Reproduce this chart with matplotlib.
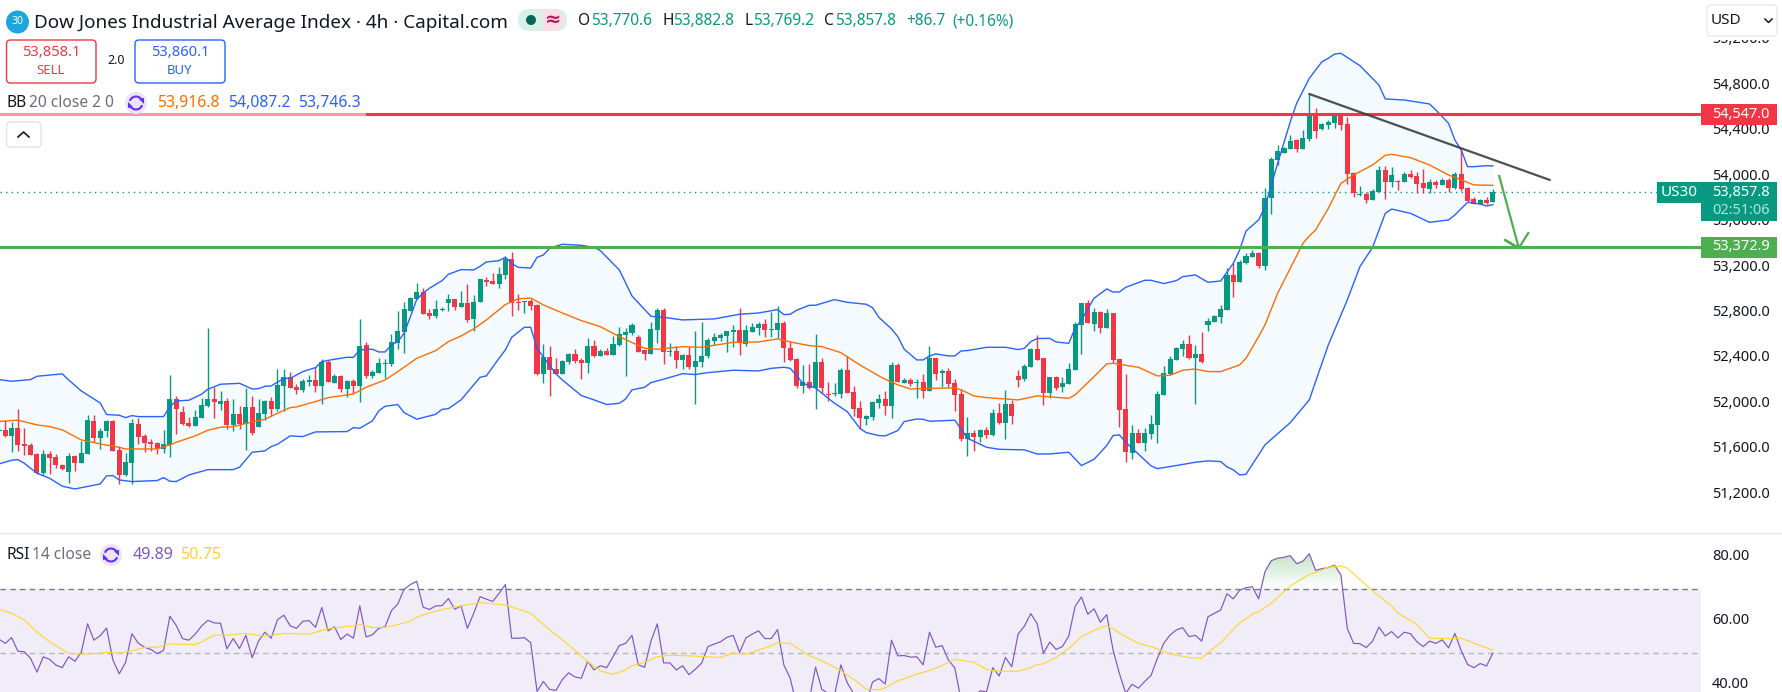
import matplotlib
matplotlib.use("Agg")
import matplotlib.pyplot as plt
import numpy as np
from matplotlib.patches import Rectangle, FancyBboxPatch, Circle, Arc, Polygon
from matplotlib.path import Path
from matplotlib.transforms import ScaledTranslation

plt.rcParams['font.family'] = ['Noto Sans', 'DejaVu Sans']

# candles, oldest first: open, high, low, close
opens = [51758,51764,51711,51781,51640,51632,51552,51382,51552,51526,51456,51394,51535,51473,51552,51843,51693,51755,51843,51588,
51367,51473,51816,51711,51658,51649,51596,51632,52036,51922,51825,51799,51869,51975,52036,51992,52019,51808,51904,51816,
51966,51790,51904,52019,51948,52151,52230,52142,52116,52186,52204,52151,52362,52177,52239,52124,52195,52151,52512,52239,
52265,52345,52345,52529,52626,52811,52917,52978,52793,52767,52820,52881,52917,52846,52881,52741,52890,53084,53075,53049,
53128,53269,52890,52890,52899,52864,52256,52406,52300,52256,52362,52433,52380,52353,52503,52415,52459,52424,52512,52600,
52617,52582,52468,52433,52644,52820,52450,52459,52380,52424,52318,52362,52415,52547,52573,52591,52626,52644,52521,52626,
52661,52697,52644,52644,52705,52485,52389,52151,52186,52133,52362,52080,52080,52080,52292,52098,51957,51860,51878,52001,
52036,51975,52336,52177,52204,52177,52186,52107,52397,52265,52283,52177,52080,51684,51737,51702,51764,51720,51913,51825,
51992,52239,52212,52318,52477,52397,52089,52230,52142,52168,52292,52688,52881,52697,52802,52661,52793,52389,51948,51561,
51737,51649,51728,51808,52072,52256,52380,52477,52521,52397,52433,52688,52714,52758,52820,53128,53066,53234,53286,53322,
53207,53802,54140,54201,54237,54316,54237,54325,54539,54413,54448,54465,54530,54457,54025,53832,53841,53788,53858,54052,
53946,53955,53946,54017,53999,53937,53885,53946,53920,53964,53893,54017,53893,53796,53752,53788,53770.6]
highs = [51770,51852,51834,51948,51781,51646,51561,51588,51579,51552,51464,51558,51544,51667,51896,51896,51781,51852,51852,51623,
51561,51860,51869,51728,51684,51658,51764,52248,52063,51975,51878,51940,52045,52661,52142,52107,52045,52036,51975,52133,
52063,52036,52028,52054,52300,52300,52274,52168,52212,52248,52318,52389,52380,52256,52248,52204,52212,52741,52538,52292,
52397,52389,52609,52811,52890,52934,53058,53013,52829,52908,52846,52961,52917,52987,53049,52952,53093,53110,53146,53198,
53295,53330,52961,52899,52917,52873,52521,52503,52397,52380,52441,52477,52397,52573,52556,52477,52485,52591,52670,52661,
52705,52600,52468,52714,52837,52837,52529,52503,52433,52494,52635,52714,52573,52617,52617,52635,52688,52837,52688,52705,
52714,52741,52802,52855,52723,52547,52397,52336,52345,52609,52397,52186,52177,52309,52415,52151,52019,51896,52019,52080,
52107,52362,52353,52221,52221,52212,52256,52503,52397,52300,52309,52212,52124,51878,51764,51772,51790,51948,52001,52116,
52028,52292,52345,52485,52600,52397,52230,52239,52230,52353,52714,52881,52908,52837,52811,52829,52793,52389,52256,51808,
51772,51781,51896,52107,52327,52415,52494,52556,52600,52512,52626,52749,52776,52864,53189,53234,53260,53322,53348,53330,
53893,54166,54272,54254,54360,54325,54404,54727,54597,54465,54492,54545,54545,54518,54034,53911,53858,53885,54087,54087,
54078,53964,54034,54052,54034,54061,53973,53964,53981,53981,54034,54237,53902,53814,53796,53814,53882.8]
lows = [51752,51705,51573,51582,51544,51544,51376,51367,51376,51429,51412,51297,51403,51473,51552,51658,51596,51702,51579,51288,
51359,51288,51640,51570,51579,51552,51561,51526,51728,51808,51790,51799,51869,51966,51869,51940,51772,51755,51772,51588,
51720,51790,51852,51887,51931,51931,52133,52080,52098,52151,52098,51992,52186,52177,52098,52054,52089,52010,52221,52221,
52265,52221,52327,52477,52441,52811,52917,52785,52741,52749,52811,52811,52823,52846,52714,52635,52890,53031,53049,53013,
53093,52767,52820,52793,52820,52248,52177,52063,52256,52256,52345,52353,52212,52265,52406,52415,52424,52424,52503,52239,
52600,52450,52380,52433,52529,52345,52415,52309,52300,52300,51992,52318,52397,52512,52547,52450,52494,52424,52503,52626,
52600,52582,52582,52573,52362,52371,52133,52089,52124,51948,52089,52019,52063,52045,52089,51887,51772,51808,51852,51957,
51896,51869,52186,52177,52151,52045,52045,52107,52204,52142,52142,51931,51667,51535,51579,51658,51693,51711,51816,51684,
51816,52142,52195,52318,52380,51984,52045,52116,52098,52168,52292,52433,52705,52635,52617,52661,52353,51790,51482,51508,
51649,51579,51684,51649,52072,52248,52380,52415,52389,51992,52353,52635,52714,52705,52820,52934,53066,53225,53286,53189,
53172,53664,54096,54201,54237,54210,54237,54307,54333,54404,54413,54421,54404,53929,53814,53823,53761,53788,53858,53796,
53902,53876,53946,53981,53849,53849,53849,53893,53920,53858,53885,53867,53770,53752,53752,53752,53769.2]
closes = [51764,51711,51781,51632,51623,51544,51382,51552,51517,51456,51420,51535,51473,51561,51852,51693,51755,51843,51579,51367,
51482,51825,51702,51649,51640,51596,51640,52036,51948,51816,51799,51878,51984,52036,52010,52019,51808,51904,51816,51966,
51737,51913,52019,51948,52160,52230,52133,52116,52195,52204,52151,52362,52186,52239,52124,52195,52151,52503,52239,52274,
52353,52353,52538,52635,52829,52925,52978,52785,52767,52829,52829,52917,52846,52881,52732,52890,53093,53066,53049,53137,
53269,52881,52881,52899,52855,52256,52406,52292,52256,52371,52433,52371,52353,52503,52415,52459,52424,52521,52609,52626,
52688,52450,52433,52653,52820,52450,52459,52380,52424,52318,52371,52415,52556,52582,52600,52635,52644,52529,52644,52670,
52697,52644,52653,52705,52485,52380,52151,52186,52133,52362,52133,52072,52089,52292,52089,51948,51869,51887,52010,52036,
51975,52336,52186,52204,52168,52186,52107,52397,52256,52283,52168,52072,51684,51737,51702,51764,51720,51913,51825,51992,
51887,52204,52327,52477,52380,52089,52230,52133,52177,52300,52697,52881,52705,52802,52661,52793,52380,51940,51570,51737,
51649,51737,51816,52080,52265,52389,52485,52521,52397,52433,52362,52723,52767,52829,53128,53066,53242,53295,53322,53207,
53802,54149,54219,54245,54307,54237,54333,54530,54395,54457,54474,54530,54448,54017,53849,53841,53788,53867,54052,53946,
54008,53946,54017,53990,53929,53893,53946,53920,53964,53893,54017,53885,53779,53752,53788,53761,53857.8]

# bollinger bands, read at the candle where the line bends
bb_upper_idx = [1,3,6,7,11,12,14,17,18,20,21,22,23,27,28,29,31,33,34,36,39,41,42,43,44,46,47,49,51,52,54,56,57,58,60,61,62,63,64,65,66,67,68,69,71,72,
74,76,77,78,80,81,82,83,85,86,87,88,90,93,95,96,99,101,104,106,109,114,118,121,124,125,126,127,129,130,133,135,138,139,140,
142,143,144,146,147,148,149,151,152,153,154,157,160,162,163,164,165,167,168,170,171,172,174,176,177,178,179,182,183,185,187,188,190,192,194,196,197,198,
200,201,203,205,206,208,210,211,212,213,214,216,219,220,223,227,228,230,231,232,233,234,236,237]
bb_upper = [52207,52192,52207,52236,52257,52204,52107,52001,51899,51893,51872,51890,51881,51881,51969,52019,52025,52078,52122,52166,52174,52124,52127,52148,52151,52218,52218,52277,52312,52365,52386,52403,52403,52468,52474,52450,52450,52512,52541,52614,52761,52914,52967,53011,53078,53134,
53175,53172,53204,53242,53254,53283,53231,53195,53189,53283,53304,53363,53398,53389,53371,53342,53172,52943,52764,52755,52732,52741,52782,52793,52823,52779,52782,52817,52861,52861,52911,52887,52870,52840,52755,
52653,52585,52474,52380,52380,52415,52433,52415,52415,52459,52462,52491,52491,52471,52482,52541,52568,52570,52538,52526,52658,52732,52923,53005,52978,52978,53019,53081,53081,53052,53078,53113,53128,53063,53075,53231,53348,53515,
53612,53729,54110,54477,54639,54859,55005,55035,55073,55079,55043,54970,54800,54677,54668,54633,54580,54463,54316,54228,54081,54081,54090,54087.2]
bb_lower_idx = [1,3,4,5,7,9,11,13,17,18,19,20,22,26,27,28,29,31,34,38,39,41,43,44,45,47,49,51,56,57,58,60,61,62,64,65,67,70,71,72,
74,77,78,80,81,82,84,85,86,89,90,93,95,97,99,100,101,103,104,106,109,111,113,117,121,123,125,126,127,128,130,132,133,135,137,138,140,
141,143,144,146,147,148,152,154,157,159,163,165,167,170,172,174,176,177,178,179,183,184,187,190,192,194,195,196,197,198,201,205,208,
211,214,216,218,220,221,224,227,230,231,233,235,236,237]
bb_lower = [51464,51497,51502,51470,51382,51338,51268,51244,51288,51359,51362,51323,51309,51318,51344,51312,51309,51367,51414,51414,51435,51567,51579,51617,51637,51711,51705,51746,51749,51784,51778,51843,51931,51972,51987,51916,51858,51901,51945,51951,
52028,52227,52239,52394,52468,52579,52667,52667,52482,52256,52204,52066,52028,51987,51998,52036,52116,52139,52180,52210,52259,52251,52268,52289,52283,52306,52315,52306,52242,52174,52133,52042,51998,51925,51778,51740,51714,
51711,51758,51837,51860,51857,51840,51849,51690,51611,51593,51588,51552,51552,51567,51450,51505,51626,51714,51720,51655,51447,51423,51450,51479,51491,51485,51438,51412,51367,51373,51632,51828,52028,
52511,52907,53201,53371,53670,53708,53670,53591,53612,53656,53767,53752,53735,53746.3]
bb_basis_idx = [1,3,4,7,9,11,14,18,19,21,26,28,29,32,34,36,38,41,43,45,47,48,51,53,57,59,62,64,67,70,72,
74,76,78,81,83,85,87,90,93,96,99,103,105,109,112,117,121,124,126,129,131,134,137,140,
141,143,145,148,152,153,155,157,160,162,165,170,171,174,176,177,181,184,186,188,190,192,194,197,198,200,201,203,207,208,
209,211,213,215,218,220,221,224,227,230,232,233,234,237]
bb_basis = [51837,51846,51849,51808,51793,51764,51676,51629,51623,51596,51596,51632,51655,51711,51761,51787,51793,51834,51857,51910,51960,51966,52013,52048,52080,52139,52204,52277,52394,52462,52541,
52591,52653,52732,52867,52917,52925,52864,52793,52726,52673,52585,52482,52474,52497,52491,52535,52538,52565,52538,52506,52497,52444,52336,52239,
52210,52160,52124,52130,52133,52116,52063,52048,52036,52028,52063,52042,52072,52233,52345,52350,52315,52239,52245,52289,52300,52277,52277,52336,52394,52585,52688,52967,53407,53471,
53524,53714,53934,54008,54096,54181,54190,54160,54096,54008,53964,53943,53920,53916.8]

# rsi, one value per candle
rsi = [54.2,52.9,54.7,50.4,50.3,48.2,43.9,48.7,47.9,46.1,45.3,48.7,47.3,50.1,59.0,53.9,55.3,57.7,47.7,43.4,
46.9,55.9,53.0,51.7,51.0,49.7,50.7,61.4,58.5,54.4,53.9,55.8,58.3,60.1,59.3,59.2,51.2,54.4,51.3,55.4,
48.4,53.6,56.4,54.5,60.3,61.7,58.4,57.6,59.8,60.0,57.9,64.1,56.8,58.1,54.1,55.8,54.5,64.6,54.9,55.6,
57.6,58.1,63.1,65.2,69.8,71.3,72.3,64.2,63.5,64.6,64.7,66.9,63.6,64.6,57.6,62.3,67.5,66.7,66.0,68.5,
71.3,54.5,54.5,54.7,53.1,37.9,41.0,38.5,38.2,41.6,43.7,42.4,42.0,47.3,44.6,45.9,
45.3,48.7,52.2,52.9,55.4,46.2,45.4,53.6,59.0,46.8,46.8,44.6,45.9,43.1,44.8,46.7,51.9,52.7,53.4,54.8,
55.4,50.1,54.6,55.8,56.8,54.4,54.4,57.2,46.1,42.0,33.6,33.1,35.2,45.5,38.5,37.3,36.8,46.2,40.6,37.3,
33.6,34.2,40.8,41.9,40.2,53.9,49.0,49.1,48.6,48.7,46.2,56.4,51.7,52.2,47.7,45.2,35.2,34.2,35.2,38.1,
37.7,45.3,42.7,48.5,45.6,55.8,58.3,62.2,59.1,49.8,53.3,51.0,51.9,55.2,64.4,67.4,62.0,63.7,59.5,61.9,
50.8,43.5,37.3,40.1,38.9,41.0,42.9,48.2,52.9,55.5,57.1,57.8,55.0,55.4,
53.6,61.2,62.3,63.3,68.4,66.8,69.5,70.3,70.6,66.8,75.3,78.75,79.5,79.8,80.3,77.8,78.6,80.9,75.7,76.25,
76.6,77.3,74.3,57.6,52.9,52.8,51.6,53.6,58.0,55.2,56.6,54.6,56.4,55.9,53.4,51.9,53.6,52.9,54.0,51.5,
56.0,50.6,46.3,45.3,46.6,45.8,49.89]
rsi_ma_idx = [1,3,5,7,9,12,14,17,18,20,22,24,26,28,32,33,35,37,40,43,46,50,53,56,57,58,60,62,64,66,67,69,71,73,75,77,79,81,85,88,91,94,96,
98,100,101,103,105,107,110,115,117,119,121,123,124,126,129,130,132,134,136,138,140,141,143,144,146,148,150,152,155,157,159,162,164,165,166,168,170,172,175,176,177,179,181,183,186,189,191,
192,194,197,199,200,202,205,208,209,211,213,214,218,221,222,225,227,230,232,235,237]
rsi_ma = [63.6,62.3,60.2,56.4,53.4,49.8,49.5,49.8,50.1,49.8,50.6,51.6,51.7,52.7,52.5,53.4,55.4,55.5,56.0,55.1,56.0,55.8,57.5,58.2,58.3,58.75,57.9,57.9,58.75,59.9,61.1,62.4,63.5,64.2,65.0,65.6,65.3,64.9,62.3,57.1,52.4,47.2,44.3,
43.2,44.6,45.9,47.0,48.75,49.2,49.0,48.5,49.9,49.5,50.8,52.1,53.1,52.9,49.1,48.3,46.5,44.3,41.7,38.6,38.4,39.0,41.25,41.8,43.3,44.4,46.0,47.9,47.0,44.8,44.2,44.2,45.3,46.2,46.5,48.5,51.3,55.0,57.9,58.4,57.4,55.0,52.9,51.9,49.6,48.5,48.2,
50.0,53.1,59.3,62.0,62.8,65.4,70.8,74.5,75.0,76.7,77.1,76.4,69.3,64.6,62.3,58.85,54.5,54.4,54.5,52.2,50.75]

price_ticks = [51200,51600,52000,52400,52800,53200,53600,54000,54400,54800,55200]
rsi_ticks = [40,60,80]
resistance = 54547.0
support = 53372.9
last_price = 53857.8
trend_idx = [208,246]
trend_px = [54721,53964]
arrow_idx = [238,241.1,238.9,241.1,242.6]
arrow_px = [53999,53365,53436,53365,53497]

GREEN = '#089981'
RED = '#F23645'
W, H = 1782, 692
fig = plt.figure(figsize=(W/100, H/100), dpi=100, facecolor='white')

def box(x0, y0, x1, y1):
    return [x0/W, 1-y1/H, (x1-x0)/W, (y1-y0)/H]

# main pane
ax = fig.add_axes(box(0, 0, 1701, 533))
ax.set_xlim(1.163, 269.88)
ax.set_ylim(50856.3, 55548.2)
idx = np.arange(1, len(opens)+1)
o, h, l, c = map(np.array, (opens, highs, lows, closes))
colors = np.where(c >= o, GREEN, RED)

upper_x, lower_x = np.array(bb_upper_idx), np.array(bb_lower_idx)
ax.fill(np.r_[upper_x, lower_x[::-1]], np.r_[bb_upper, bb_lower[::-1]], color='#F4FAFE', lw=0, zorder=1)
ax.axhline(last_price, color=GREEN, lw=1, ls=(0, (1, 3)), zorder=2)
ax.vlines(idx, l, h, colors=colors, lw=1.0, zorder=3)
ax.bar(idx, np.abs(c-o), bottom=np.minimum(o, c), width=0.8, color=colors, lw=0, zorder=3)
ax.plot(bb_basis_idx, bb_basis, color='#FF6D00', lw=1.0, zorder=4)
ax.plot(bb_upper_idx, bb_upper, color='#2962FF', lw=1.0, zorder=4)
ax.plot(bb_lower_idx, bb_lower, color='#2962FF', lw=1.0, zorder=4)
ax.axhline(resistance, color=RED, lw=2.2, zorder=5)
ax.axhline(support, color='#4CAF50', lw=2.2, zorder=5)
ax.plot(trend_idx, trend_px, color='#3C3C3C', lw=1.6, alpha=0.9, zorder=6, solid_capstyle='round')
ax.plot(arrow_idx, arrow_px, color='#4CAF50', lw=1.6, zorder=6)

ax.set_xticks([])
ax.yaxis.tick_right()
ax.set_yticks(price_ticks)
ax.set_yticklabels([f'{t:,.1f}' for t in price_ticks], fontsize=10.5, color='#131722')
ax.tick_params(axis='y', length=0, pad=8)
nudge = ScaledTranslation(0, 1.2/72, fig.dpi_scale_trans)
for lab, t in zip(ax.get_yticklabels(), price_ticks):
    lab.set_transform(lab.get_transform() + nudge)
    if t in (52000, 54000):
        lab.set_fontweight('bold')
for s in ax.spines.values():
    s.set_visible(False)

# rsi pane
ax2 = fig.add_axes(box(0, 534, 1701, 692))
ax2.set_xlim(1.163, 269.88)
ax2.set_ylim(37.7, 87.08)
ax2.axhspan(30, 70, color='#F0ECF8', lw=0, zorder=1)
ax2.axhline(70, color='#787B86', lw=1, ls=(0, (4, 3)), zorder=2)
ax2.axhline(50, color='#B8B6C0', lw=1, ls=(0, (4, 3)), zorder=2)
idx_rsi = np.arange(1, len(rsi)+1)
r = np.array(rsi)
over = ax2.fill_between(idx_rsi, r, 70, where=r > 70, interpolate=True, color='none', lw=0)
grad = np.zeros((64, 1, 4))
grad[..., 0], grad[..., 1], grad[..., 2] = 76/255, 175/255, 80/255
grad[..., 3] = np.linspace(0.34, 0.0, 64)[:, None]
im = ax2.imshow(grad, extent=[1.163, 269.88, 70, 81], aspect='auto', zorder=2, interpolation='bilinear')
im.set_clip_path(Path.make_compound_path(*over.get_paths()), transform=ax2.transData)
ax2.set_xlim(1.163, 269.88)
ax2.set_ylim(37.7, 87.08)
ax2.plot(idx_rsi, r, color='#7E57C2', lw=0.85, zorder=3)
ax2.plot(rsi_ma_idx, rsi_ma, color='#FDD835', lw=0.85, zorder=4)
ax2.set_xticks([])
ax2.yaxis.tick_right()
ax2.set_yticks(rsi_ticks)
ax2.set_yticklabels([f'{t:.2f}' for t in rsi_ticks], fontsize=10.5, color='#131722')
ax2.tick_params(axis='y', length=0, pad=8)
for lab in ax2.get_yticklabels():
    lab.set_transform(lab.get_transform() + nudge)
for s in ax2.spines.values():
    s.set_visible(False)

# header, legends and price labels drawn over the panes in pixel units
ui = fig.add_axes([0, 0, 1, 1], zorder=10)
ui.set_xlim(0, W)
ui.set_ylim(H, 0)
ui.axis('off')
ui.patch.set_alpha(0)

def label(x, y, s, color='#131722', size=11.1, ha='left', weight='normal'):
    ui.text(x, y, s, color=color, fontsize=size, ha=ha, va='center', fontweight=weight)

def rbox(x0, y0, x1, y1, ec, fc='white', lw=1.0, rad=4):
    ui.add_patch(FancyBboxPatch((x0+rad, y0+rad), x1-x0-2*rad, y1-y0-2*rad,
                                boxstyle=f'round,pad={rad}', ec=ec, fc=fc, lw=lw))

def sync_icon(x, y):
    ui.add_patch(Circle((x, y), 11, fc='#E9E5F6', ec='none'))
    ui.add_patch(Arc((x, y), 13, 13, theta1=200, theta2=340, color='#6A2CF0', lw=1.5))
    ui.add_patch(Arc((x, y), 13, 13, theta1=20, theta2=160, color='#6A2CF0', lw=1.5))
    ui.add_patch(Polygon([[x+8, y-5], [x+3, y-4], [x+8, y+1]], color='#6A2CF0', lw=0))
    ui.add_patch(Polygon([[x-8, y+5], [x-3, y+4], [x-8, y-1]], color='#6A2CF0', lw=0))

ui.add_patch(Rectangle((1701, 0), 81, 40, fc='white', ec='none'))
ui.plot([0, W], [533, 533], color='#E8E9EC', lw=1)

# title row
ui.add_patch(Circle((17.5, 22), 11.5, fc='#1DA5DC', ec='none'))
label(17.5, 22, '30', color='white', size=7.5, ha='center', weight='bold')
label(33.5, 23, 'Dow Jones Industrial Average Index · 4h · Capital.com', size=13.65)
ui.add_patch(FancyBboxPatch((529, 20), 27, 0, boxstyle='round,pad=11', fc='#D8EFEA', ec='none'))
ui.add_patch(Rectangle((543, 9), 13, 22, fc='#FBDDE7', ec='none'))
ui.add_patch(Polygon([[543, 9], [556, 9], [567, 20], [556, 31], [543, 31]], fc='#FBDDE7', ec='none'))
ui.add_patch(Circle((531, 20), 5, fc='#056656', ec='none'))
label(553, 20, '≈', color='#B0185C', size=14, ha='center', weight='bold')
for x, s in [(578, 'O'), (662, 'H'), (744, 'L'), (824, 'C')]:
    label(x, 21, s)
for x, s in [(591, '53,770.6'), (673, '53,882.8'), (753, '53,769.2'), (835, '53,857.8'),
             (906, '+86.7'), (952, '(+0.16%)')]:
    label(x, 21, s, color=GREEN)

# sell and buy boxes
rbox(6.5, 40, 96, 83, RED)
rbox(135, 40, 225, 83, '#2962FF')
label(51, 53, '53,858.1', color=RED, size=10.6, ha='center', weight='bold')
label(51, 70, 'SELL', color=RED, size=9.5, ha='center')
label(180, 53, '53,860.1', color='#2962FF', size=10.6, ha='center', weight='bold')
label(180, 70, 'BUY', color='#2962FF', size=9.5, ha='center')
label(116, 61, '2.0', size=9, ha='center')

# indicator legends
ui.add_patch(Rectangle((0, 112.5), 366, 3.5, fc='white', alpha=0.5, ec='none'))
label(6, 103, 'BB', size=11.2)
label(29, 103, '20 close 2 0', color='#6A6D78', size=11.2)
sync_icon(136, 103)
label(157, 103, '53,916.8', color='#FF6D00', size=11.3)
label(228, 103, '54,087.2', color='#2962FF', size=11.3)
label(298, 103, '53,746.3', color='#2962FF', size=11.3)
rbox(6.5, 122, 41, 147, '#E0E3EB')
ui.plot([18, 23.5, 29], [137, 132, 137], color='#131722', lw=1.2)

label(6, 555, 'RSI', size=11.2)
label(32, 555, '14 close', color='#6A6D78', size=11.2)
sync_icon(111, 555)
label(133, 555, '49.89', color='#7E57C2', size=11.6)
label(181, 555, '50.75', color='#FFD02E', size=11.6)

# currency box
rbox(1707, 5, 1777, 36, '#E8EAEE')
label(1711, 21, 'USD', size=11)
ui.plot([1765, 1768.5, 1772], [19, 22.5, 19], color='#131722', lw=1.1)

# price labels on the scale
ui.add_patch(Rectangle((1701, 104), 76, 21, fc=RED, ec='none'))
label(1712, 114, '54,547.0', color='white', size=10.5)
ui.add_patch(Rectangle((1701, 237), 76, 21, fc='#4CAF50', ec='none'))
label(1712, 247, '53,372.9', color='white', size=10.5)
ui.add_patch(Rectangle((1701, 182), 76, 39, fc=GREEN, ec='none'))
label(1712, 192, '53,857.8', color='white', size=10.5)
label(1712, 210, '02:51:06', color='#B5E1D9', size=10.5)
ui.add_patch(Rectangle((1657, 182), 44, 21, fc=GREEN, ec='none'))
label(1679, 192, 'US30', color='white', size=11, ha='center')

fig.savefig('out.png', dpi=100, facecolor='white')
